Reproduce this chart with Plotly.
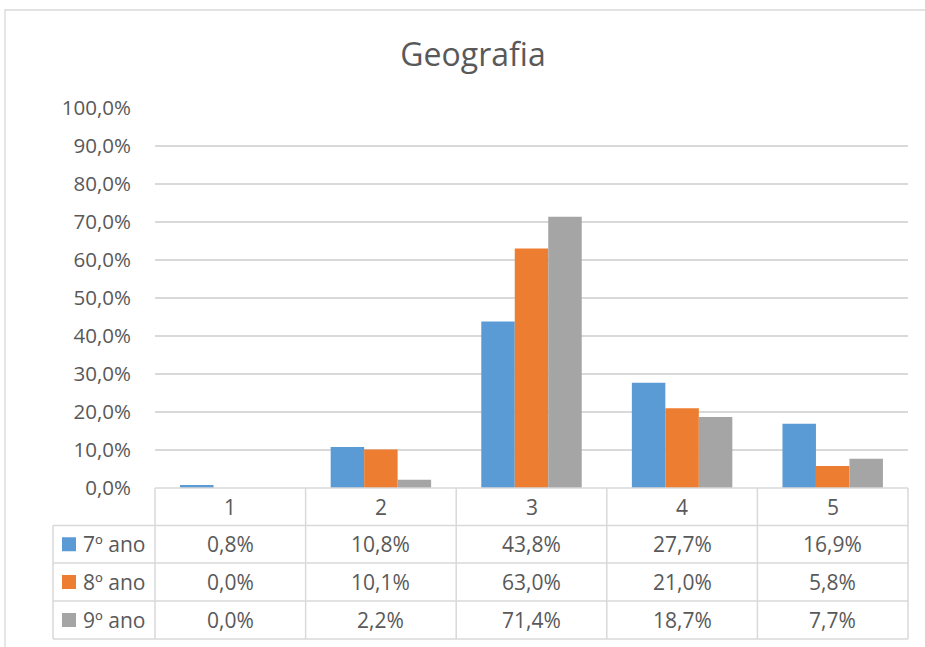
import plotly.graph_objects as go

categories = ["1", "2", "3", "4", "5"]
series_names = ["7º ano", "8º ano", "9º ano"]
v7 = [0.008, 0.108, 0.438, 0.277, 0.169]
v8 = [0.000, 0.101, 0.630, 0.210, 0.058]
v9 = [0.000, 0.022, 0.714, 0.187, 0.077]
colors = ["#5B9BD5", "#ED7D31", "#A5A5A5"]
tick_vals = [i / 10 for i in range(11)]
tick_text = [f"{v*100:.1f}%".replace(".", ",") for v in tick_vals]

W, H = 925, 647
L, R, T, B = 155, 908, 108, 488
FONT = "Open Sans, sans-serif"
TXT = "#595959"
GRID = "#D9D9D9"

def px(x):
    return (x - L) / (R - L)

def py(y):
    return (B - y) / (B - T)

fig = go.Figure()
all_vals = [v7, v8, v9]
for name, vals, c in zip(series_names, all_vals, colors):
    fig.add_trace(go.Bar(x=list(range(len(categories))), y=vals, name=name,
                         marker=dict(color=c, line=dict(width=0))))

shapes = []
annotations = []
n = len(categories)
row_edges = [488, 525.5, 563, 601, 639]
leg_left = 53
for ry in row_edges[1:]:
    shapes.append(dict(type="line", xref="paper", yref="paper", x0=px(leg_left), x1=1,
                       y0=py(ry), y1=py(ry), line=dict(color=GRID, width=1.5)))
for k in range(n + 1):
    xp = k / n
    shapes.append(dict(type="line", xref="paper", yref="paper", x0=xp, x1=xp,
                       y0=0, y1=py(row_edges[-1]), line=dict(color=GRID, width=1.5)))
shapes.append(dict(type="line", xref="paper", yref="paper", x0=px(leg_left), x1=px(leg_left),
                   y0=py(row_edges[1]), y1=py(row_edges[-1]), line=dict(color=GRID, width=1.5)))
shapes.append(dict(type="line", xref="paper", yref="paper", x0=0, x1=1, y0=0, y1=0,
                   line=dict(color=GRID, width=1.5)))
# outer chart border
shapes.append(dict(type="rect", xref="paper", yref="paper", x0=px(5), x1=px(980),
                   y0=py(700), y1=py(10), line=dict(color="#D9D9D9", width=1.3)))

FS = 21
for k, cat in enumerate(categories):
    annotations.append(dict(x=(k + 0.5) / n, y=py((row_edges[0] + row_edges[1]) / 2),
                            xref="paper", yref="paper", text=cat, showarrow=False,
                            xanchor="center", yanchor="middle",
                            font=dict(family=FONT, size=FS, color=TXT)))
for r, (name, vals, c) in enumerate(zip(series_names, all_vals, colors)):
    cy = (row_edges[r + 1] + row_edges[r + 2]) / 2
    for k, v in enumerate(vals):
        annotations.append(dict(x=(k + 0.5) / n, y=py(cy), xref="paper", yref="paper",
                                text=f"{v*100:.1f}%".replace(".", ","), showarrow=False,
                                xanchor="center", yanchor="middle",
                                font=dict(family=FONT, size=FS, color=TXT)))
    shapes.append(dict(type="rect", xref="paper", yref="paper", x0=px(62), x1=px(76),
                       y0=py(cy + 7), y1=py(cy - 7), fillcolor=c, line=dict(width=0)))
    annotations.append(dict(x=px(81), y=py(cy), xref="paper", yref="paper", text=name,
                            xanchor="left", yanchor="middle", showarrow=False,
                            font=dict(family=FONT, size=FS, color=TXT)))

fig.update_layout(
    width=W, height=H,
    margin=dict(l=L, r=W - R, t=T, b=H - B, pad=0),
    paper_bgcolor="white", plot_bgcolor="white",
    barmode="group", bargap=0.333, bargroupgap=0,
    showlegend=False,
    title=dict(text="Geografia", x=473 / W, xref="container", xanchor="center",
               y=1 - 55 / H, yref="container", yanchor="middle",
               font=dict(family=FONT, size=32, color=TXT)),
    xaxis=dict(range=[-0.5, n - 0.5], showticklabels=False, showgrid=False,
               zeroline=False, showline=False, ticks=""),
    yaxis=dict(range=[0, 1], tickvals=tick_vals, ticktext=tick_text, showgrid=True,
               gridcolor=GRID, gridwidth=1.5, zeroline=False, showline=False,
               ticks="", ticklabelstandoff=23,
               tickfont=dict(family=FONT, size=20.5, color=TXT)),
    shapes=shapes, annotations=annotations,
)

fig.write_html("out.html", post_script="document.body.style.margin='0';",
               config={"displayModeBar": False})
